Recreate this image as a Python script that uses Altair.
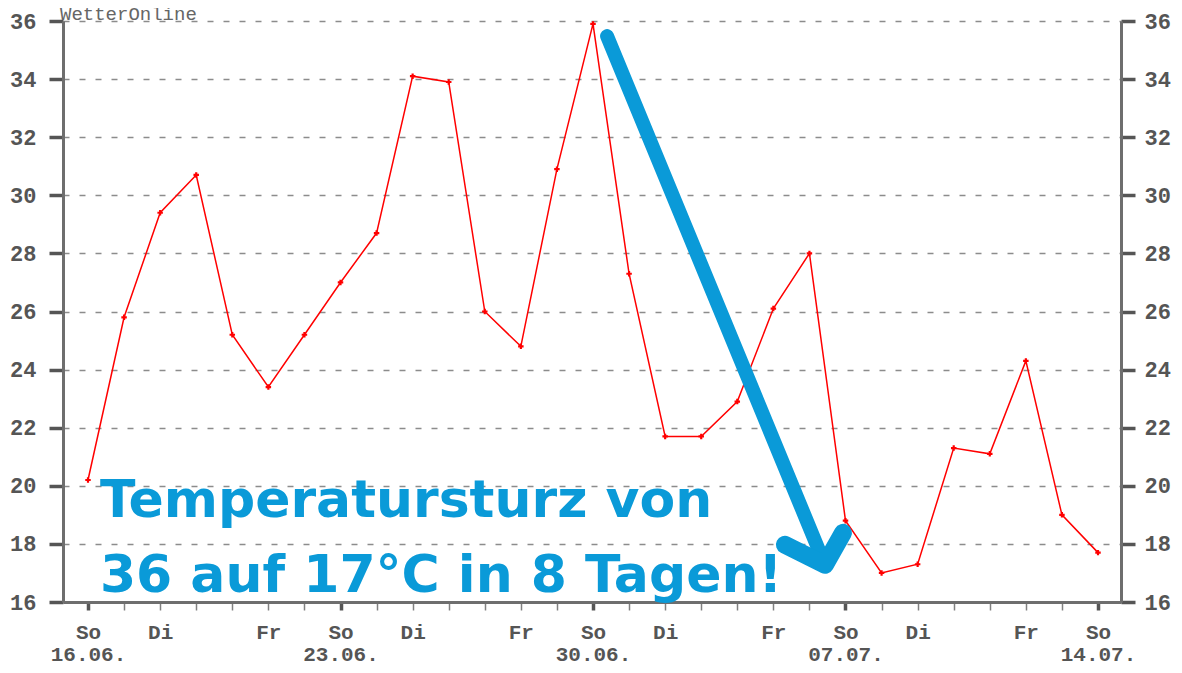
import altair as alt
import pandas as pd

# ---------------- data ----------------
days = list(range(29))  # 16.06. (So) ... 14.07. (So)
temps = [20.2, 25.8, 29.4, 30.7, 25.2, 23.4, 25.2, 27.0, 28.7, 34.1,
         33.9, 26.0, 24.8, 30.9, 35.9, 27.3, 21.7, 21.7, 22.9, 26.1,
         28.0, 18.8, 17.0, 17.3, 21.3, 21.1, 24.3, 19.0, 17.7]

label_days = [0, 2, 5, 7, 9, 12, 14, 16, 19, 21, 23, 26, 28]
label_weekday = ["So", "Di", "Fr", "So", "Di", "Fr", "So", "Di", "Fr", "So", "Di", "Fr", "So"]
label_date = ["16.06.", "", "", "23.06.", "", "", "30.06.", "", "", "07.07.", "", "", "14.07."]

y_ticks = list(range(16, 37, 2))

title_text = "WetterOnline"

annotation_lines = ["Temperatursturz von", "36 auf 17°C in 8 Tagen!"]
annotation_x = [0.33, 0.33]
annotation_y = [18.93, 16.35]

shaft_x = [14.39, 20.43]
shaft_y = [35.48, 17.28]
head_x = [19.32, 20.43, 20.93]
head_y = [17.97, 17.28, 18.38]

# ---------------- styling ----------------
RED = "#ff0000"
BLUE = "#0a9ad8"
AXIS_GRAY = "#6e6e6e"
LABEL_GRAY = "#555555"
MONO = "Liberation Mono"

df = pd.DataFrame({"day": days, "temp": temps})
ann = pd.DataFrame({"day": annotation_x, "temp": annotation_y, "t": annotation_lines})
shaft = pd.DataFrame({"day": shaft_x, "temp": shaft_y, "o": list(range(len(shaft_x)))})
head = pd.DataFrame({"day": head_x, "temp": head_y, "o": list(range(len(head_x)))})

# x label expression built from the label lists
entries = ["''"] * len(days)
for d, w, dt in zip(label_days, label_weekday, label_date):
    lines = [w] + ([dt] if dt else [])
    entries[d] = "[" + ",".join("'" + s + "'" for s in lines) + "]"
label_expr = "[" + ",".join(entries) + "][datum.value]"

x_scale = alt.Scale(domain=[-25 / 36.07, 28 + 23 / 36.07], nice=False, zero=False)
y_scale = alt.Scale(domain=[16, 36], nice=False, zero=False)

sunday = "datum.value % 7 === 0"
x_axis = alt.Axis(
    values=days, labelExpr=label_expr, title=None, grid=False,
    domainColor=AXIS_GRAY, domainWidth=3,
    tickColor={"condition": {"test": sunday, "value": "#555555"}, "value": "#808080"},
    tickWidth={"condition": {"test": sunday, "value": 3.5}, "value": 1.5},
    tickSize=8,
    labelFont=MONO, labelFontWeight="bold", labelFontSize=21, labelColor=LABEL_GRAY,
    labelPadding=11, labelBaseline="top", labelLineHeight=22,
    labelOverlap=False, labelFlush=False, labelBound=False,
)

common_y = dict(
    values=y_ticks, title=None,
    domainColor=AXIS_GRAY, domainWidth=3,
    tickColor="#555555", tickWidth=3.5, tickSize=14,
    labelFont=MONO, labelFontWeight="bold", labelFontSize=22, labelColor=LABEL_GRAY,
    labelPadding=13, labelOverlap=False, labelFlush=False, labelBound=False,
)
y_left = alt.Axis(orient="left", grid=True, gridDash=[6, 10], gridColor="#8c8c8c",
                  gridWidth=1.5, **common_y)
y_right = alt.Axis(orient="right", grid=False, **dict(common_y, labelPadding=9))


def X():
    return alt.X("day:Q", scale=x_scale, axis=x_axis)


line = alt.Chart(df).mark_line(color=RED, strokeWidth=1.5).encode(
    x=X(), y=alt.Y("temp:Q", scale=y_scale, axis=y_left),
)

points = alt.Chart(df).mark_point(shape="cross", filled=True, size=30, color=RED, opacity=1).encode(
    x=X(), y=alt.Y("temp:Q", scale=y_scale, axis=y_right),
)

arrow_shaft = alt.Chart(shaft).mark_line(color=BLUE, strokeWidth=14, strokeCap="round",
                                         strokeJoin="round").encode(
    x=X(), y=alt.Y("temp:Q", scale=y_scale, axis=None), order="o:Q",
)
arrow_head = alt.Chart(head).mark_line(color=BLUE, strokeWidth=18, strokeCap="round",
                                       strokeJoin="round").encode(
    x=X(), y=alt.Y("temp:Q", scale=y_scale, axis=None), order="o:Q",
)

text = alt.Chart(ann).mark_text(
    font="DejaVu Sans", fontWeight="bold", fontSize=52, color=BLUE,
    align="left", baseline="alphabetic",
).encode(
    x=X(), y=alt.Y("temp:Q", scale=y_scale, axis=None), text="t:N",
)

title = alt.Chart(pd.DataFrame({"t": [title_text]})).mark_text(
    font=MONO, fontSize=19, color="#666666", align="left", baseline="alphabetic",
).encode(text="t:N", x=alt.value(-3), y=alt.value(-1))

chart = alt.layer(line, points, arrow_shaft, arrow_head, text, title).resolve_scale(
    y="shared"
).resolve_axis(y="independent").properties(
    width=1058, height=581,
    autosize=alt.AutoSizeParams(type="none"),
    padding={"left": 55, "top": 13, "right": 53, "bottom": 62},
    background="white",
).configure_view(strokeWidth=0)

chart.save("out.html", embed_options={"renderer": "svg", "actions": False})
